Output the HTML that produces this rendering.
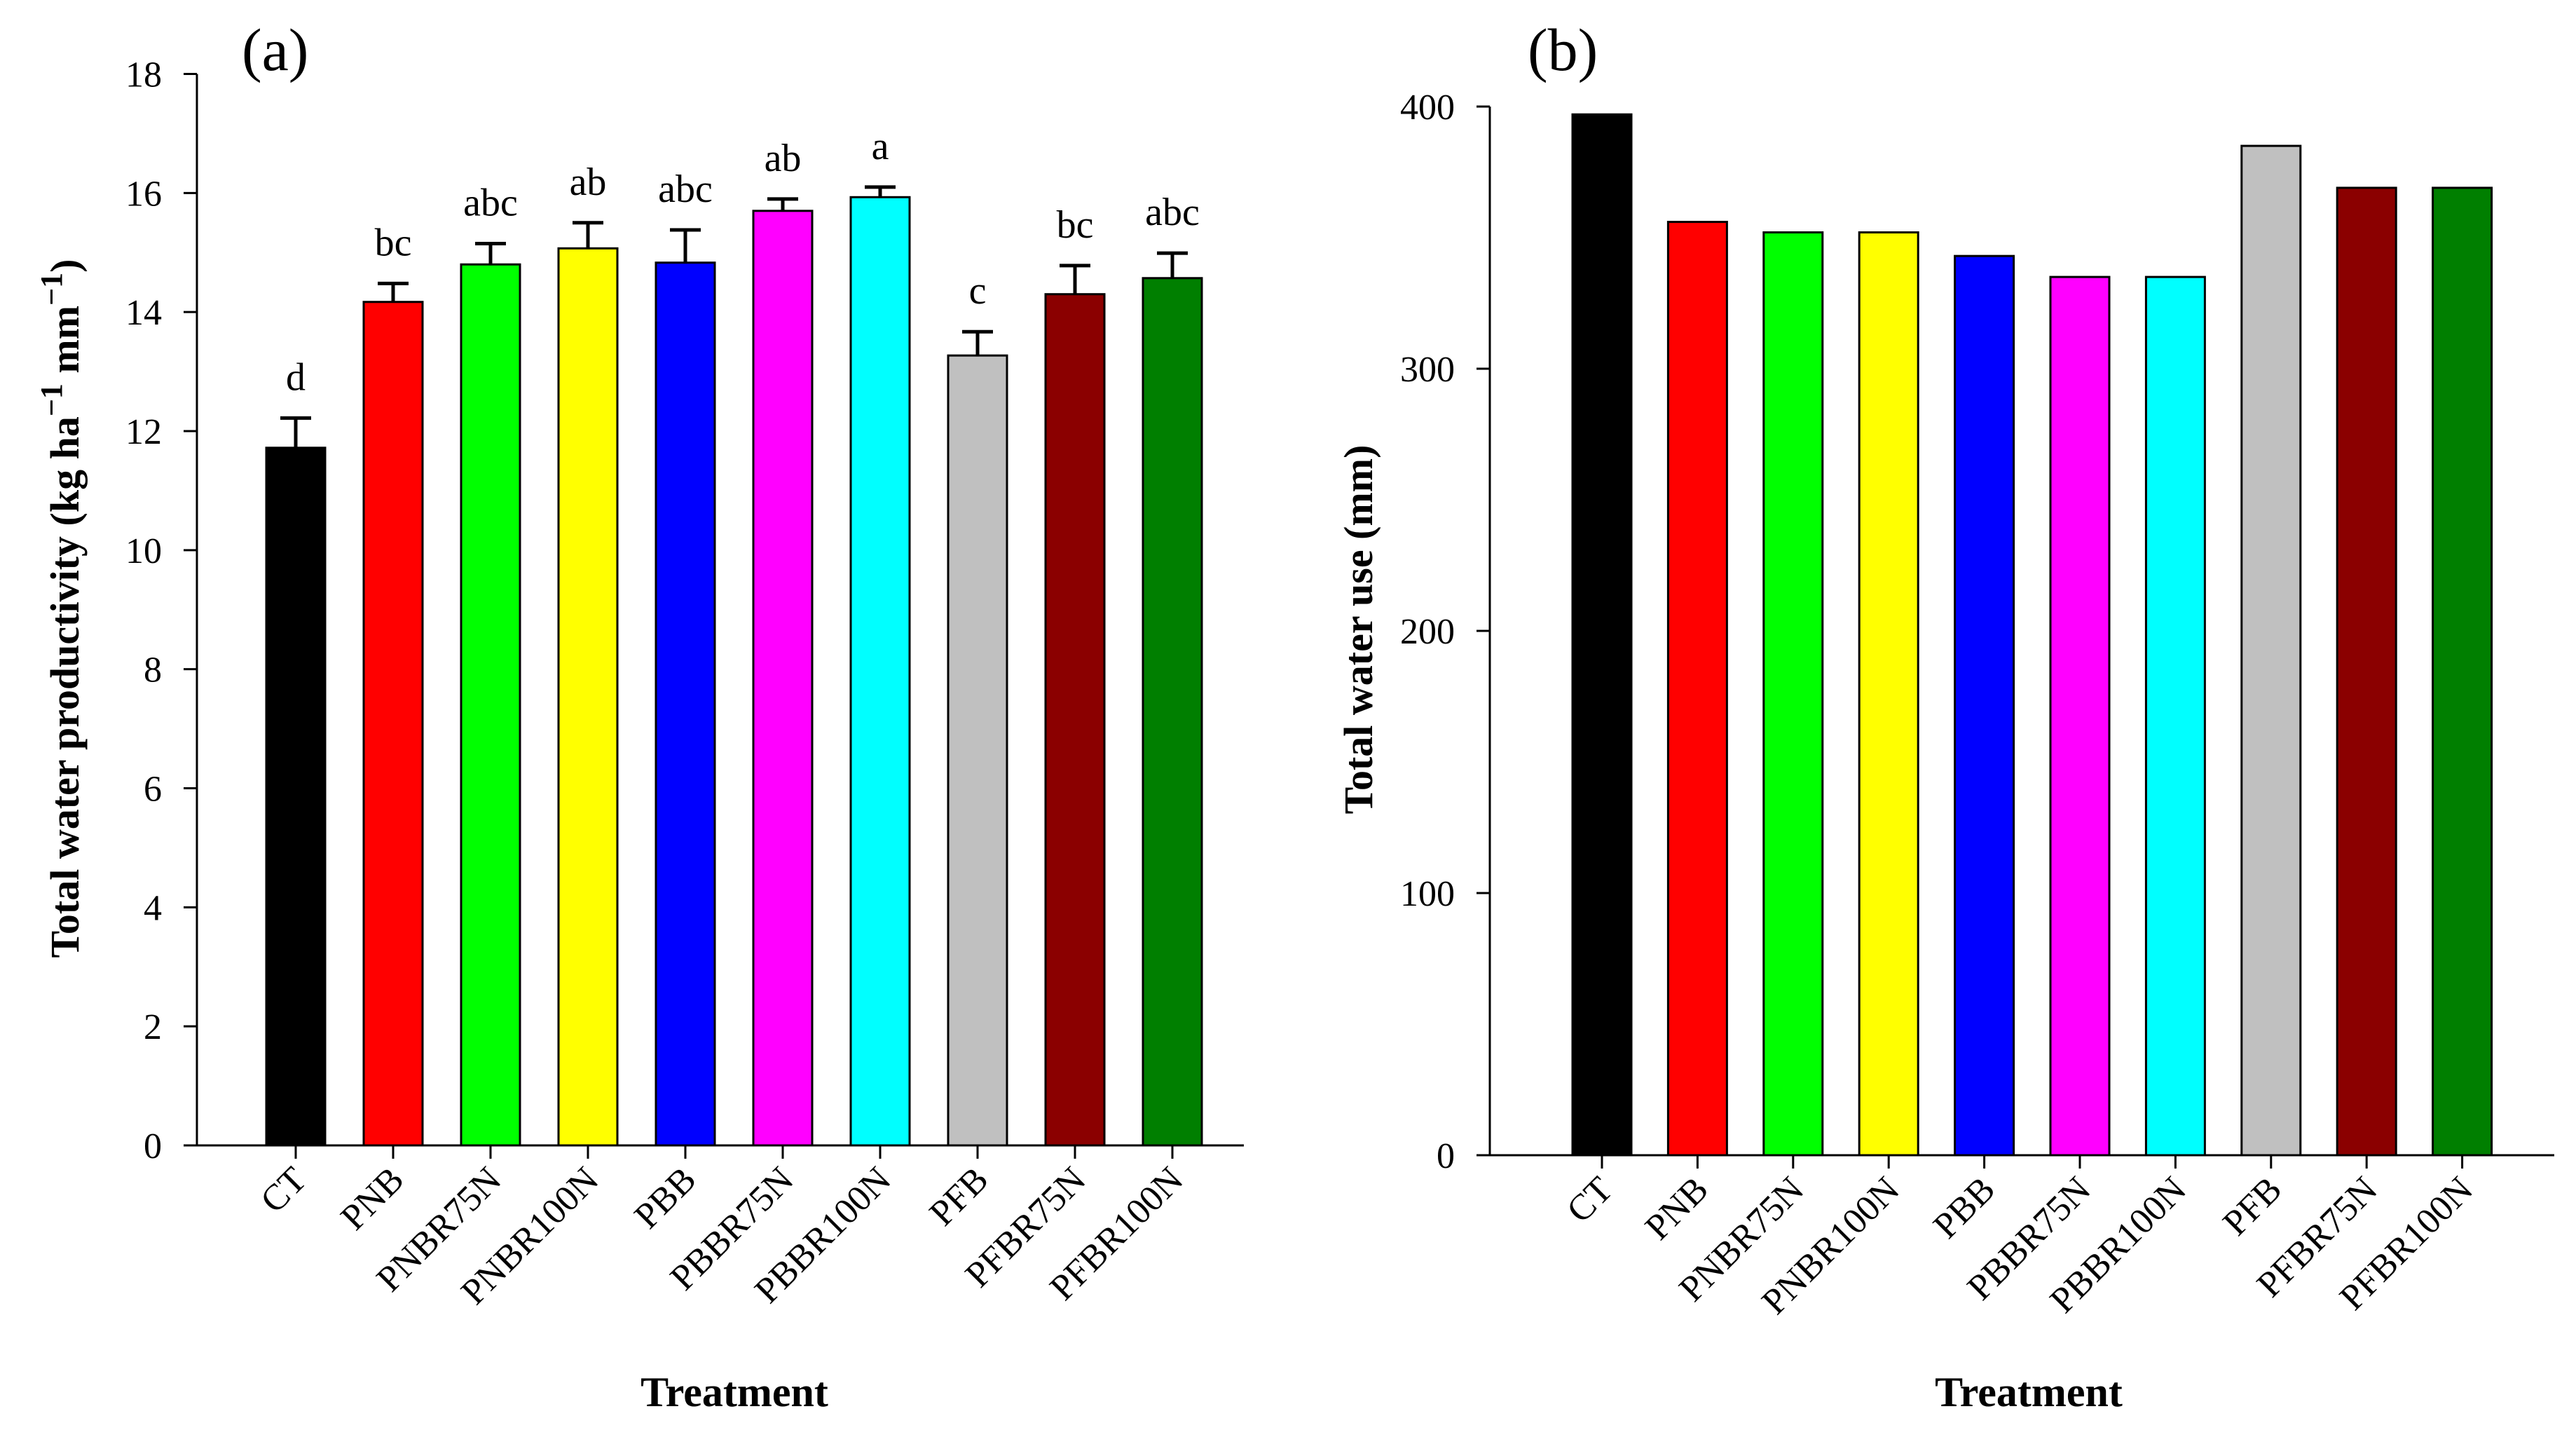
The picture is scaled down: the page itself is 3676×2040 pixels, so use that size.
<!DOCTYPE html>
<html><head><meta charset="utf-8"><style>
html,body{margin:0;padding:0;background:#fff;}
svg{display:block;font-family:"Liberation Serif",serif;}
</style></head><body>
<svg id="fig" width="3676" height="2040" viewBox="0 0 3676 2040" xmlns="http://www.w3.org/2000/svg">
<g id="pa"></g>
<g id="pb"></g>
</svg>
<script>
const categories = ["CT","PNB","PNBR75N","PNBR100N","PBB","PBBR75N","PBBR100N","PFB","PFBR75N","PFBR100N"];
const colors = ["#000000","#ff0000","#00ff00","#ffff00","#0000ff","#ff00ff","#00ffff","#c0c0c0","#8b0000","#007f00"];
const wpValues = [11.72,14.17,14.8,15.07,14.83,15.7,15.93,13.27,14.3,14.57];
const wpErrors = [0.5,0.31,0.35,0.43,0.55,0.2,0.17,0.4,0.48,0.42];
const wpLetters = ["d","bc","abc","ab","abc","ab","a","c","bc","abc"];
const wpTicks = [0,2,4,6,8,10,12,14,16,18];
const wuValues = [397,356,352,352,343,335,335,385,369,369];
const wuTicks = [0,100,200,300,400];

const NS="http://www.w3.org/2000/svg";
function mk(parent,tag,attrs,text){const e=document.createElementNS(NS,tag);for(const k in attrs)e.setAttribute(k,attrs[k]);if(text!==undefined)e.textContent=text;parent.appendChild(e);return e;}

function panel(g,cfg){
  const {ax,y0,yTop,vmax,c0,step,bw,xEnd,values,errors,letters,ticks,label,lx,ly,ytitle,ytx,yty,tx}=cfg;
  const ys=v=>y0-(v/vmax)*(y0-yTop);
  const xs=i=>c0+i*step;
  values.forEach((v,i)=>{
    if(errors){
      const ye=ys(v+errors[i]);
      const l=mk(g,'line',{x1:xs(i),x2:xs(i),y1:ys(v),y2:ye,stroke:'#000','stroke-width':5});
      
      
      const c=mk(g,'line',{x1:xs(i)-22,x2:xs(i)+22,y1:ye,y2:ye,stroke:'#000','stroke-width':5});
      
      
      const t=mk(g,'text',{x:xs(i),y:ye-40,'text-anchor':'middle','font-size':56},letters[i]);
      
      
    }
    const r=mk(g,'rect',{x:xs(i)-bw/2,y:ys(v),width:bw,height:y0-ys(v),fill:colors[i],stroke:'#000','stroke-width':3});
    
    
    const tk=mk(g,'line',{x1:xs(i),x2:xs(i),y1:y0,y2:y0+19,stroke:'#000','stroke-width':3});
    
    
    const tl=mk(g,'text',{x:0,y:0,'text-anchor':'end','font-size':52,transform:`translate(${xs(i)+18},${y0+52}) rotate(-45)`},categories[i]);
    
    
  });
  const yaxis=mk(g,'line',{x1:ax,x2:ax,y1:y0,y2:yTop,stroke:'#000','stroke-width':3});
  
  
  const xaxis=mk(g,'line',{x1:ax,x2:xEnd,y1:y0,y2:y0,stroke:'#000','stroke-width':3});
  
  
  ticks.forEach(t=>{
    const l=mk(g,'line',{x1:ax-19,x2:ax,y1:ys(t),y2:ys(t),stroke:'#000','stroke-width':3});
    
    
    const tx2=mk(g,'text',{x:ax-50,y:ys(t)+18,'text-anchor':'end','font-size':52},String(t));
    
    
  });
  const pl=mk(g,'text',{x:lx,y:ly,'font-size':86},label);
  
  
  const xt=mk(g,'text',{x:tx,y:2006,'text-anchor':'middle','font-size':60,'font-weight':'bold'},'Treatment');
  
  
  const yt=mk(g,'text',{x:0,y:0,'text-anchor':'middle','font-size':58,'font-weight':'bold',transform:`translate(${ytx},${yty}) rotate(-90)`});
  
  
  ytitle(yt);
}

panel(document.getElementById('pa'),{ax:281,y0:1634,yTop:105.5,vmax:18,c0:422,step:139,bw:84,xEnd:1775,
  values:wpValues,errors:wpErrors,letters:wpLetters,ticks:wpTicks,label:'(a)',lx:345,ly:100,tx:1048,
  ytx:112,yty:868,ytitle:t=>{
    mk(t,'tspan',{},'Total water productivity (kg ha');
    mk(t,'tspan',{dy:-24,'font-size':44},'−1');
    mk(t,'tspan',{dy:24},' mm');
    mk(t,'tspan',{dy:-24,'font-size':44},'−1');
    mk(t,'tspan',{dy:24},')');
  }});
panel(document.getElementById('pb'),{ax:2126,y0:1648,yTop:152,vmax:400,c0:2286,step:136.4,bw:84,xEnd:3645,
  values:wuValues,errors:null,letters:null,ticks:wuTicks,label:'(b)',lx:2180,ly:100,tx:2895,
  ytx:1958,yty:898,ytitle:t=>{t.textContent='Total water use (mm)';}});
</script>
</body></html>
